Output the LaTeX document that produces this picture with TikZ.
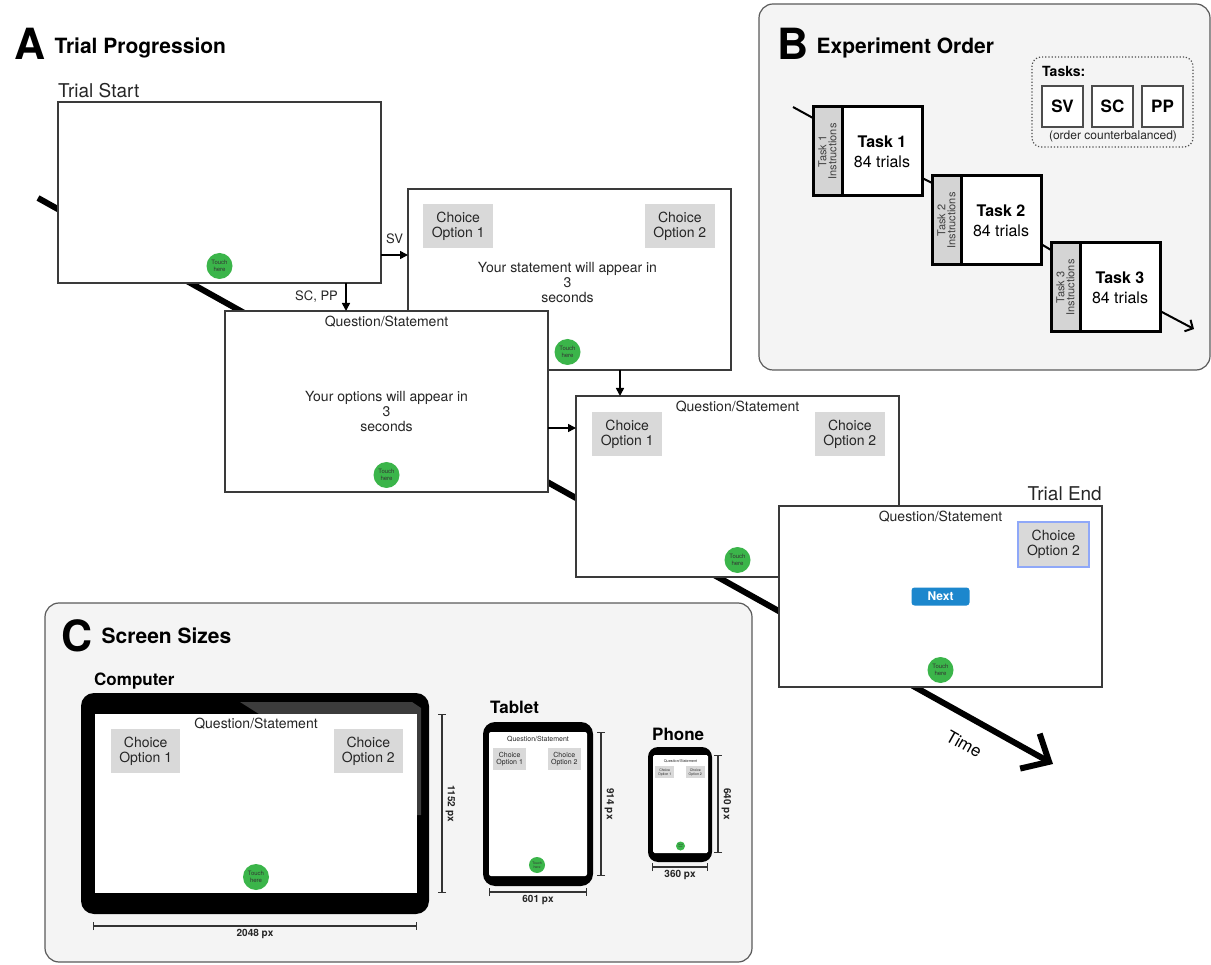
\documentclass[tikz,border=0pt]{standalone}
\usepackage{fontspec}
\setmainfont{TeX Gyre Heros}
\usetikzlibrary{arrows.meta, positioning}

\definecolor{scrline}{HTML}{3A3A3A}
\definecolor{optgray}{HTML}{D9D9D9}
\definecolor{touchgreen}{HTML}{3BB54A}
\definecolor{nextblue}{HTML}{1C87CD}
\definecolor{pickblue}{HTML}{8FA8F8}
\definecolor{panelbg}{HTML}{F4F4F4}
\definecolor{panelline}{HTML}{5A5A5A}
\definecolor{instrgray}{HTML}{D4D4D4}
\definecolor{glare}{HTML}{3C3C3C}

\newcommand{\fsz}[2]{\fontsize{#1}{#2}\selectfont}

\begin{document}
\begin{tikzpicture}[x=1pt, y=-1pt,
    panel/.style={draw=panelline, fill=panelbg, line width=1.2pt, rounded corners=14pt},
    letter/.style={font=\fsz{43}{43}\bfseries, inner sep=0pt, anchor=base west},
    heading/.style={font=\fsz{21}{24}\bfseries, inner sep=0pt, anchor=base west},
    caption/.style={font=\fsz{19}{22}, text=black!85, inner sep=0pt},
    screen/.style={draw=scrline, fill=white, line width=1.8pt, minimum width=323pt,
                   minimum height=181pt, inner sep=0pt, outer sep=0pt, anchor=north west},
    choice/.style={fill=optgray, minimum width=70pt, minimum height=44pt, inner sep=0pt,
                   align=center, font=\fsz{14}{15}, text=black!85},
    qs/.style={font=\fsz{14}{16}, text=black!85, inner sep=0pt},
    wait/.style={font=\fsz{14}{15}, text=black!85, align=center, inner sep=0pt},
    touch/.style={circle, fill=touchgreen, minimum size=26pt, inner sep=0pt, align=center,
                  font=\fsz{6}{7}, text=black!80},
    arr/.style={-{Triangle[length=8pt, width=8pt]}, line width=1.6pt},
    route/.style={font=\fsz{13}{15}, text=black!85},
    timeline/.style={line width=6pt, -{Straight Barb[length=22pt, width=40pt]}},
    instr/.style={rotate=90, draw=black, line width=3pt, fill=instrgray, minimum width=89pt,
                  minimum height=29pt, inner sep=0pt, outer sep=0pt, align=center,
                  font=\fsz{11}{10}, text=black!75},
    taskbox/.style={draw=black, line width=3pt, fill=white, minimum width=80pt,
                    minimum height=89pt, inner sep=0pt, outer sep=0pt, align=center,
                    font=\fsz{16}{20}, anchor=west},
    flow/.style={line width=2pt},
    tbox/.style={draw=black!70, line width=1.5pt, fill=white, minimum size=41pt,
                 inner sep=0pt, outer sep=0pt, font=\fsz{17}{17}\bfseries},
    device/.style={fill=black, inner sep=0pt, outer sep=0pt},
    devscreen/.style={fill=white, inner sep=0pt, outer sep=0pt},
    dim/.style={draw=black!80, line width=1.3pt, {Bar[width=8pt]}-{Bar[width=8pt]}},
    dimlbl/.style={font=\fsz{10}{10}\bfseries, text=black!85, inner sep=3pt},
    devname/.style={font=\fsz{17}{20}\bfseries, inner sep=0pt, anchor=base west}
  ]
  \useasboundingbox (0,0) rectangle (1211,965);

  % panel backgrounds
  \draw[panel] (759,4) rectangle (1210,370);
  \draw[panel] (45,603) rectangle (752,962);

  % A: trial progression
  \node[letter] (la) at (14,60) {A};
  \node[heading] (ha) at ([xshift=9pt, yshift=6pt]la.base east) {Trial Progression};

  \coordinate (t0) at (38,198);
  \coordinate (t1) at (1053,764);
  \draw[timeline] (t0) -- (t1);
  \node[font=\fsz{17}{17}, rotate=-29.3] (time) at (964,744) {Time};

  \node[screen] (s1) at (58,102) {};
  \node[caption, anchor=base west] (start) at ([yshift=4pt]s1.north west) {Trial Start};
  \node[touch] (g1) at ([yshift=17pt]s1.south) {Touch\\here};

  \node[screen] (s2) at (408,189) {};
  \node[choice, anchor=north west] (c21) at ([shift={(15,15)}]s2.north west) {Choice\\Option 1};
  \node[choice, anchor=north east] (c22) at ([shift={(-16,15)}]s2.north east) {Choice\\Option 2};
  \node[wait] (w2) at ([shift={(-2,3)}]s2.center) {Your statement will appear in\\3\\seconds};
  \node[touch] (g2) at ([shift={(-2,-18)}]s2.south) {Touch\\here};

  \node[screen] (s3) at (225,311) {};
  \node[qs] (q3) at ([yshift=-11pt]s3.north) {Question/Statement};
  \node[wait] (w3) at ([yshift=-10pt]s3.center) {Your options will appear in\\3\\seconds};
  \node[touch] (g3) at ([yshift=17pt]s3.south) {Touch\\here};

  \node[screen] (s4) at (576,396) {};
  \node[qs] (q4) at ([yshift=-11pt]s4.north) {Question/Statement};
  \node[choice, anchor=north west] (c41) at ([shift={(16,16)}]s4.north west) {Choice\\Option 1};
  \node[choice, anchor=north east] (c42) at ([shift={(-14,16)}]s4.north east) {Choice\\Option 2};
  \node[touch] (g4) at ([yshift=17pt]s4.south) {Touch\\here};

  \node[screen] (s5) at (779,506) {};
  \node[caption, anchor=base east] (end) at ([yshift=5pt]s5.north east) {Trial End};
  \node[qs] (q5) at ([yshift=-11pt]s5.north) {Question/Statement};
  \node[choice, draw=pickblue, line width=2pt, minimum width=71pt, minimum height=45pt,
        anchor=north east] (c52) at ([shift={(-12,15)}]s5.north east) {Choice\\Option 2};
  \node[fill=nextblue, rounded corners=3pt, minimum width=58pt, minimum height=18pt,
        inner sep=0pt, text=white, font=\fsz{12}{12}\bfseries] (next) at (s5.center) {Next};
  \node[touch] (g5) at ([yshift=17pt]s5.south) {Touch\\here};

  \coordinate (svs) at ([yshift=28pt]s1.south east);
  \draw[arr] (svs) -- (svs -| s2.west) node[route, midway, above=7pt] {SV};
  \coordinate (scs) at ([xshift=-35pt]s1.south east);
  \draw[arr] (scs) -- (scs |- s3.north) node[route, midway, left=4pt] {SC, PP};
  \coordinate (m24) at ([xshift=44pt]s4.north west);
  \draw[arr] (m24 |- s2.south) -- (m24);
  \coordinate (m34) at ([yshift=-32pt]s4.north west);
  \draw[arr] (m34 -| s3.east) -- (m34);

  % B: experiment order
  \node[letter] (lb) at (777,60) {B};
  \node[heading] (hb) at ([xshift=8pt, yshift=6pt]lb.base east) {Experiment Order};

  \node[draw=black!70, dotted, line width=1.2pt, rounded corners=9pt, minimum width=161pt,
        minimum height=90pt] (legend) at (1112.5,102) {};
  \node[font=\fsz{14}{14}\bfseries, anchor=base west, inner sep=0pt] (tasks) at (1042,77) {Tasks:};
  \node[tbox] (sv) at (1062.5,106.5) {SV};
  \node[tbox, right=9pt of sv] (sc) {SC};
  \node[tbox, right=9pt of sc] (pp) {PP};
  \node[font=\fsz{12}{12}, text=black!85, inner sep=0pt] (cb) at (1113,136) {(order counterbalanced)};

  \node[instr] (i1) at (827.5,151.5) {Task 1\\Instructions};
  \node[taskbox] (k1) at (i1.south) {\textbf{Task 1}\\84 trials};
  \node[instr] (i2) at (946.5,220.5) {Task 2\\Instructions};
  \node[taskbox] (k2) at (i2.south) {\textbf{Task 2}\\84 trials};
  \node[instr] (i3) at (1065.5,287.5) {Task 3\\Instructions};
  \node[taskbox] (k3) at (i3.south) {\textbf{Task 3}\\84 trials};

  \coordinate (b0) at (793,107);
  \coordinate (bend) at (1194,329);
  \draw[flow] (b0) -- ([yshift=-11pt]i1.north east);
  \draw[flow] ([yshift=18pt]k1.south east) -- ([yshift=-7pt]i2.north east);
  \draw[flow] ([yshift=21pt]k2.south east) -- ([yshift=-7pt]i3.north east);
  \draw[flow, -{Straight Barb[length=6pt, width=13pt]}] ([yshift=21pt]k3.south east) -- (bend);

  % C: screen sizes
  \node[letter] (lc) at (61,651) {C};
  \node[heading] (hc) at ([xshift=9pt, yshift=8pt]lc.base east) {Screen Sizes};

  % computer
  \node[devname] (pcn) at (94,685) {Computer};
  \node[device, minimum width=348pt, minimum height=221pt, rounded corners=13pt] (pc) at (255,803.5) {};
  \fill[glare] (240,702) -- (412,702) -- (421,708) -- (421,815) -- (417,815) -- (417,714) -- (259,714) -- cycle;
  \node[devscreen, minimum width=322pt, minimum height=179pt] (pcs) at (256,803.5) {};
  \node[qs] (pcq) at ([yshift=-10pt]pcs.north) {Question/Statement};
  \node[choice, minimum width=69pt, anchor=north west] (pc1) at ([shift={(16,15)}]pcs.north west) {Choice\\Option 1};
  \node[choice, minimum width=69pt, anchor=north east] (pc2) at ([shift={(-14,15)}]pcs.north east) {Choice\\Option 2};
  \node[touch] (pcg) at ([yshift=16pt]pcs.south) {Touch\\here};
  \draw[dim] ([xshift=25pt]pcs.north east) -- ([xshift=25pt]pcs.south east)
    node[dimlbl, midway, rotate=-90, anchor=south] {1152 px};
  \draw[dim] ([shift={(-2,33)}]pcs.south west) -- ([yshift=-33pt]pcs.south east)
    node[dimlbl, midway, below] {2048 px};

  % tablet
  \node[devname] (tbn) at (490,713) {Tablet};
  \node[device, minimum width=110pt, minimum height=164pt, rounded corners=12pt] (tb) at (538,804) {};
  \node[devscreen, minimum width=98pt, minimum height=144pt, rounded corners=2pt] (tbs) at (538,804) {};
  \node[qs, font=\fsz{7}{8}] (tbq) at ([yshift=-7pt]tbs.north) {Question/Statement};
  \node[choice, minimum width=33pt, minimum height=22pt, font=\fsz{7}{7.5}, anchor=north west] (tb1) at ([shift={(4,16)}]tbs.north west) {Choice\\Option 1};
  \node[choice, minimum width=33pt, minimum height=22pt, font=\fsz{7}{7.5}, anchor=north east] (tb2) at ([shift={(-6,16)}]tbs.north east) {Choice\\Option 2};
  \node[touch, minimum size=16pt, font=\fsz{3.5}{4}] (tbg) at ([shift={(-1,-11)}]tbs.south) {Touch\\here};
  \draw[dim] ([xshift=14pt]tbs.north east) -- ([xshift=14pt]tbs.south east)
    node[dimlbl, midway, rotate=-90, anchor=south] {914 px};
  \draw[dim] ([yshift=-16pt]tbs.south west) -- ([yshift=-16pt]tbs.south east)
    node[dimlbl, midway, below] {601 px};

  % phone
  \node[devname] (phn) at (652,740) {Phone};
  \node[device, minimum width=64pt, minimum height=115pt, rounded corners=10pt] (ph) at (680,804.5) {};
  \node[devscreen, minimum width=55pt, minimum height=98pt, rounded corners=1.5pt] (phs) at (680.5,804) {};
  \node[qs, font=\fsz{3.8}{4}] (phq) at ([yshift=-6pt]phs.north) {Question/Statement};
  \node[choice, minimum width=19pt, minimum height=12pt, font=\fsz{3.5}{3.8}, anchor=north west] (ph1) at ([shift={(2,11)}]phs.north west) {Choice\\Option 1};
  \node[choice, minimum width=19pt, minimum height=12pt, font=\fsz{3.5}{3.8}, anchor=north east] (ph2) at ([shift={(-3,11)}]phs.north east) {Choice\\Option 2};
  \node[touch, minimum size=9pt, font=\fsz{2}{2}] (phg) at ([yshift=7pt]phs.south) {Touch\\here};
  \draw[dim] ([xshift=10pt]phs.north east) -- ([xshift=10pt]phs.south east)
    node[dimlbl, midway, rotate=-90, anchor=south] {640 px};
  \draw[dim] ([shift={(-1,14)}]phs.south west) -- ([yshift=-14pt]phs.south east)
    node[dimlbl, midway, below] {360 px};
\end{tikzpicture}
\end{document}
